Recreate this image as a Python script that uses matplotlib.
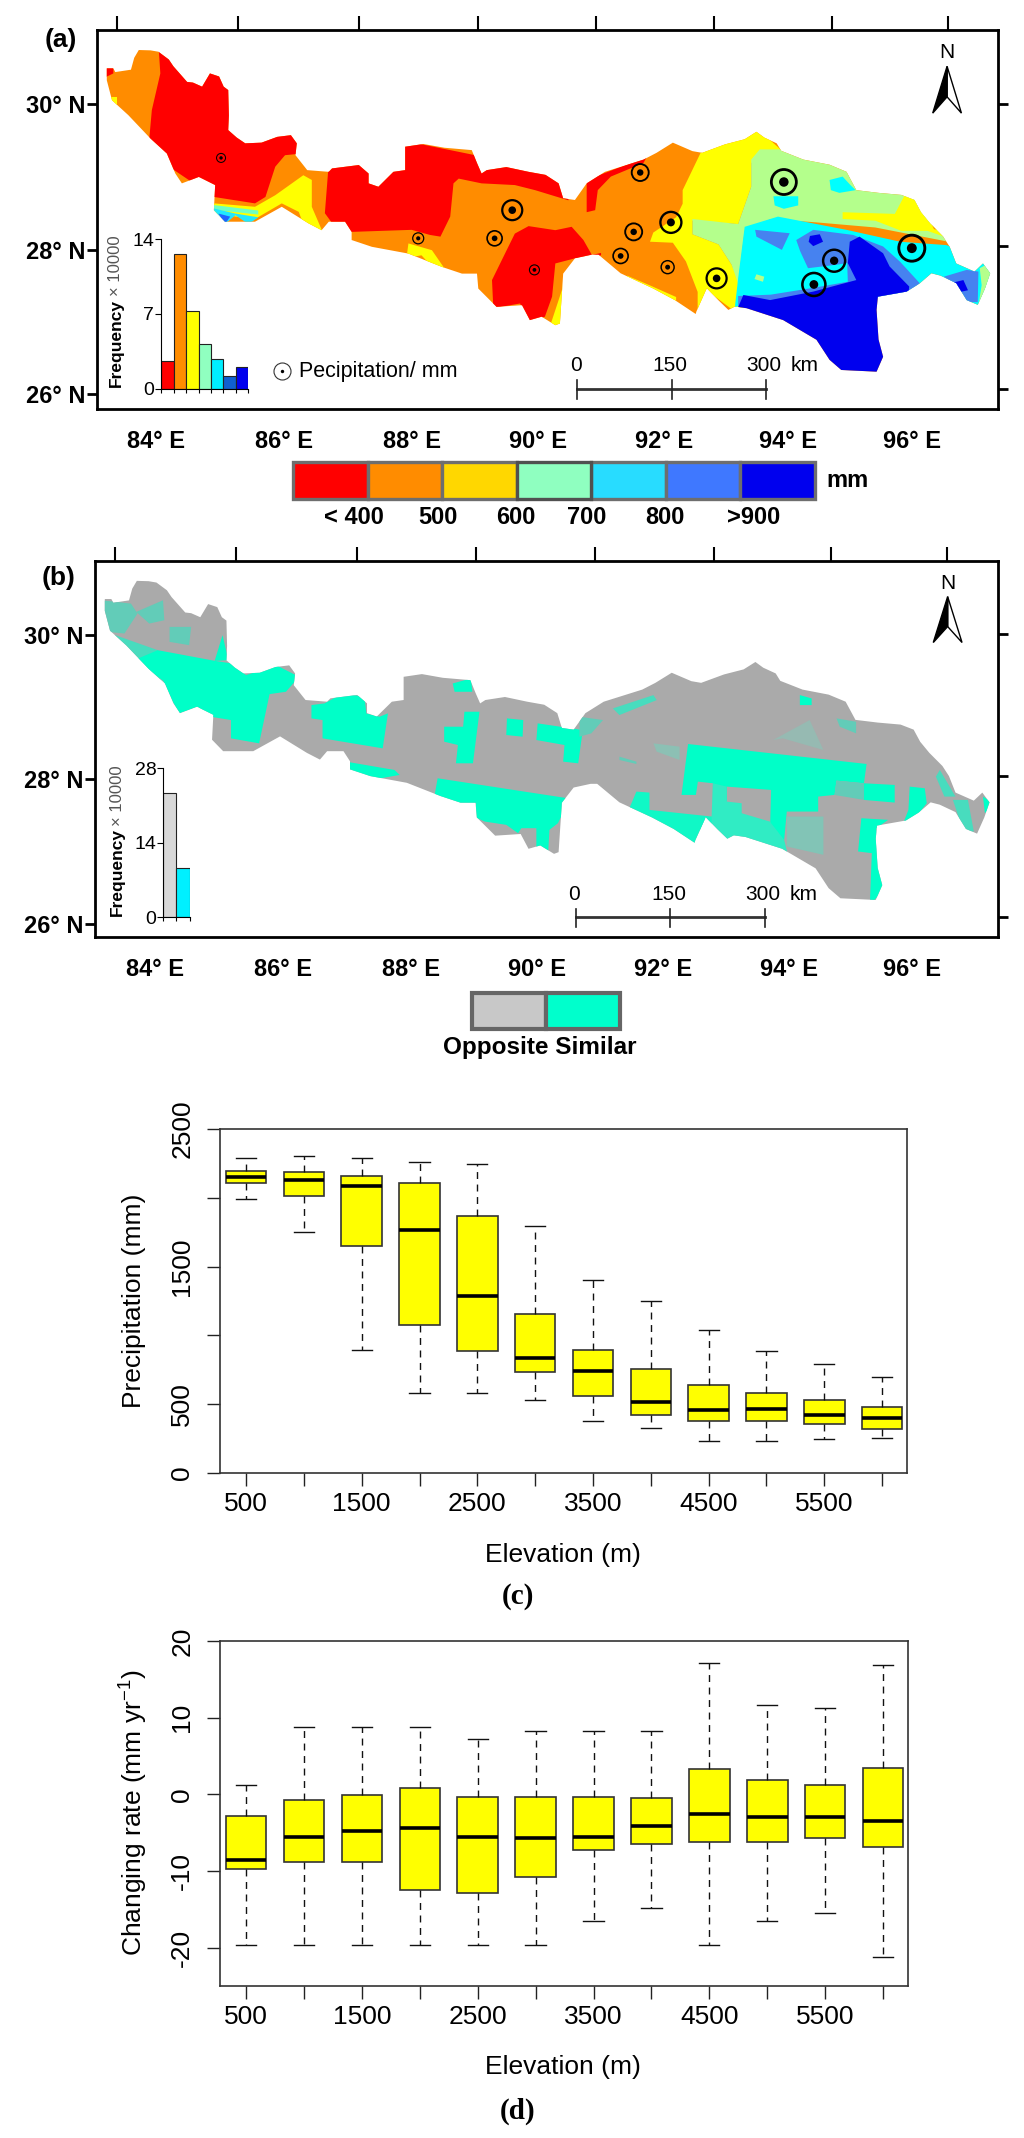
"""plot.py - precipitation maps (a, b) and elevation boxplots (c, d)."""

import matplotlib
matplotlib.use('Agg')
import matplotlib.pyplot as plt
from matplotlib.patches import Polygon

plt.rcParams['font.family'] = ['Liberation Sans', 'DejaVu Sans']
plt.rcParams['mathtext.default'] = 'regular'

W, H = 1024, 2138

# Map data is kept in a digitising grid; each axes gets the grid's limits
# and the graticule ticks are placed in the same units.
outline_x = [163, 173, 176, 200, 205, 212, 230, 242, 258, 265, 286, 295, 309, 321, 335, 342, 349, 350, 349, 362,
             375, 400, 424, 445, 454, 452, 470, 503, 508, 549, 564, 564, 579, 602, 620, 620, 648, 680, 722, 730,
             737, 745, 775, 809, 835, 855, 862, 880, 898, 926, 985, 1005, 1030, 1060, 1075, 1110, 1140, 1158, 1170, 1189,
             1196, 1230, 1270, 1296, 1311, 1345, 1380, 1400, 1410, 1424, 1444, 1454, 1464, 1492, 1505, 1516, 1508, 1497, 1480, 1464,
             1440, 1426, 1408, 1388, 1344, 1342, 1345, 1352, 1342, 1288, 1270, 1250, 1199, 1143, 1125, 1115, 1100, 1082, 1066, 1065,
             1033, 1000, 950, 916, 906, 880, 862, 857, 850, 829, 811, 799, 760, 732, 730, 707, 676, 625, 569, 538,
             538, 528, 503, 492, 472, 431, 390, 344, 327, 329, 304, 278, 268, 255, 230, 196, 171, 163]
outline_y = [201, 201, 212, 205, 170, 147, 148, 152, 175, 195, 241, 243, 255, 216, 225, 255, 265, 340, 383, 405,
             422, 420, 403, 398, 422, 457, 501, 506, 496, 486, 511, 540, 550, 506, 501, 432, 424, 435, 442, 480,
             511, 501, 492, 506, 515, 540, 584, 589, 540, 506, 470, 450, 420, 445, 450, 425, 410, 388, 405, 422,
             444, 470, 485, 506, 560, 568, 574, 589, 625, 658, 697, 727, 776, 800, 776, 805, 850, 898, 884, 834,
             812, 805, 835, 859, 874, 913, 1000, 1051, 1095, 1090, 1060, 1001, 943, 908, 903, 913, 885, 849, 918, 925,
             884, 850, 805, 750, 750, 761, 806, 953, 958, 933, 943, 899, 904, 850, 806, 806, 786, 747, 727, 707,
             683, 653, 653, 678, 658, 609, 653, 653, 619, 545, 521, 540, 511, 452, 408, 339, 295, 236]

# (a) precipitation zones, painted in this order over an orange base
red_tip = [(160, 196), (173, 196), (173, 216), (160, 228)]
red_west = [(242, 130), (245, 216), (232, 324), (228, 410), (250, 480), (327, 580), (390, 599), (406, 580), (421, 491), (436, 457), (462, 452), (470, 380), (300, 120)]
yellow_west = [(327, 599), (390, 609), (421, 575), (464, 516), (477, 530), (477, 609), (494, 685), (465, 665), (457, 624), (431, 599), (390, 645), (327, 630)]
yellow_tip = [(160, 285), (178, 285), (178, 310), (160, 310)]
green_west = [(327, 604), (395, 620), (395, 632), (327, 618)]
cyan_west = [(327, 614), (360, 629), (395, 640), (380, 660), (360, 634), (344, 660), (327, 622)]
blue_west = [(334, 629), (352, 638), (344, 660)]
red_central = [(503, 480), (497, 628), (513, 670), (538, 683), (630, 677), (658, 692), (674, 697), (689, 638), (694, 540), (702, 526), (737, 540), (788, 545), (819, 560), (870, 590), (870, 480), (735, 460), (620, 415), (503, 460)]
yellow_south = [(625, 717), (661, 737), (680, 790), (663, 790), (645, 752), (622, 760)]
red_south = [(788, 688), (809, 666), (850, 678), (875, 668), (893, 707), (906, 751), (920, 745), (920, 752), (880, 761), (850, 776), (845, 874), (834, 933), (809, 948), (796, 894), (755, 908), (753, 825), (778, 727)]
yellow_strip = [(865, 800), (865, 960), (842, 960), (860, 855)]
red_north = [(898, 530), (990, 462), (985, 480), (935, 520), (915, 560), (911, 619), (898, 625)]
yellow_ne = [(960, 812), (1000, 845), (1035, 875), (1035, 895), (1000, 865), (958, 830)]
yellow_east = [(1075, 440), (1045, 560), (1045, 600), (1035, 640), (1000, 685), (995, 712), (1030, 715), (1050, 770), (1068, 860), (1068, 925), (1085, 860), (1130, 925), (1140, 920),
               (1130, 820), (1120, 780), (1100, 720), (1060, 690), (1060, 650), (1130, 660), (1150, 550), (1150, 480), (1195, 440), (1160, 380), (1075, 430)]
green_east = [(1163, 440), (1196, 440), (1320, 500), (1410, 570), (1460, 715), (1340, 670), (1250, 655), (1180, 645), (1140, 680), (1130, 835), (1120, 780), (1100, 720), (1060, 690), (1060, 645), (1130, 660), (1150, 550), (1150, 470)]
yellow_ne2 = [(1290, 625), (1370, 630), (1385, 575), (1420, 590), (1450, 700), (1420, 680), (1380, 680), (1340, 650), (1290, 645)]
orange_speck = [(1425, 655), (1440, 660), (1443, 680), (1430, 675)]
cyan_main = [(1140, 668), (1191, 638), (1296, 677), (1378, 712), (1449, 722), (1520, 770), (1520, 910), (1480, 910), (1400, 870), (1330, 880), (1150, 890), (1125, 905), (1130, 820)]
green_speck = [(1500, 790), (1520, 770), (1520, 900), (1498, 900), (1503, 840)]
yellow_speck = [(1158, 808), (1170, 815), (1168, 830), (1155, 822)]
cyan_spot1 = [(1270, 530), (1290, 520), (1302, 545), (1310, 560), (1285, 568), (1272, 560)]
cyan_spot2 = [(1184, 578), (1222, 578), (1222, 605), (1200, 615), (1186, 605)]
blue_patch = [(1156, 677), (1209, 687), (1197, 736), (1158, 697)]
blue_main = [(1219, 707), (1245, 677), (1306, 692), (1352, 726), (1378, 771), (1408, 834), (1388, 870), (1300, 880), (1130, 905), (1130, 872), (1180, 868), (1245, 848), (1298, 830), (1297, 775), (1280, 780), (1237, 790), (1225, 740)]
blue_east = [(1445, 815), (1480, 795), (1498, 800), (1497, 890), (1480, 890), (1464, 840)]
navy_main = [(1301, 712), (1316, 697), (1352, 746), (1362, 785), (1392, 844), (1390, 880), (1344, 900), (1360, 1110), (1280, 1110), (1199, 960), (1130, 905), (1138, 869), (1179, 884), (1245, 859), (1311, 825), (1298, 775)]
navy_spot1 = [(1240, 695), (1255, 690), (1260, 712), (1245, 725), (1238, 712)]
navy_spot2 = [(1460, 832), (1475, 825), (1482, 855), (1470, 860)]

station_x = [338, 980, 1200, 784, 1027, 970, 757, 640, 1396, 1277, 950, 1022, 818, 1097, 1246]
station_y = [465, 508, 536, 619, 655, 683, 702, 702, 731, 768, 754, 787, 795, 820, 838]
station_precip = [360, 680, 1000, 800, 840, 680, 600, 440, 1040, 880, 600, 520, 400, 800, 920]

# (b) similar-trend patches, grid units of panel (b); the mottled parts are mid tones
m_west1 = [(156, 210), (201, 220), (211, 250), (191, 310), (166, 305)]
m_west2 = [(209, 245), (250, 210), (252, 270), (229, 280)]
m_west3 = [(260, 290), (293, 290), (290, 345), (260, 335)]
m_west4 = [(170, 310), (242, 360), (257, 460), (229, 430), (201, 380)]
g_west_strip = [(329, 392), (341, 315), (350, 390)]
g_west = [(242, 360), (329, 392), (355, 400), (377, 435), (423, 405), (458, 440), (438, 485), (413, 492), (397, 640), (354, 625), (354, 570), (323, 560), (303, 530), (275, 550), (265, 515), (250, 450), (206, 390)]
g_mid = [(477, 525), (497, 520), (525, 490), (558, 500), (561, 550), (581, 560), (594, 550), (586, 655), (494, 625), (494, 570), (477, 565)]
g_north = [(693, 460), (721, 445), (723, 485), (696, 485)]
g_stairs = [(711, 545), (734, 545), (724, 700), (698, 700), (701, 645), (680, 635), (680, 590), (709, 590)]
g_square = [(776, 565), (801, 570), (800, 620), (775, 615)]
g_notch = [(823, 580), (892, 600), (885, 700), (862, 695), (864, 645), (821, 630)]
g_sw = [(530, 695), (604, 720), (612, 735), (568, 750), (530, 730)]
g_south = [(670, 745), (869, 805), (864, 840), (854, 880), (841, 900), (839, 970), (821, 960), (821, 895), (798, 895), (793, 910), (775, 885), (742, 875), (725, 860), (729, 820), (701, 825), (665, 800)]
g_east = [(1053, 642), (1326, 702), (1322, 760), (1280, 752), (1277, 795), (1252, 800), (1252, 845), (1204, 845), (1200, 930), (1178, 925), (1180, 780), (1112, 770), (1112, 815), (1091, 815), (1091, 760), (1068, 755), (1065, 795), (1043, 795)]
m_hole = [(1280, 752), (1322, 760), (1322, 810), (1277, 795)]
g_block = [(1322, 760), (1369, 765), (1369, 818), (1322, 810)]
g_lower = [(1091, 760), (1112, 770), (1112, 815), (1135, 820), (1135, 850), (1178, 875), (1200, 930), (1205, 970), (1140, 960), (1090, 940), (1060, 880), (1089, 860)]
g_band = [(974, 785), (994, 788), (994, 840), (1089, 860), (1089, 965), (1040, 965), (960, 850)]
m_lower = [(1204, 860), (1260, 860), (1260, 975), (1204, 950)]
g_strip = [(1318, 865), (1359, 870), (1341, 895), (1346, 1010), (1355, 1075), (1331, 1125), (1334, 970), (1313, 965)]
g_right = [(1392, 770), (1415, 775), (1418, 820), (1400, 865), (1382, 880), (1390, 840)]
m_far_east = [(1458, 810), (1481, 810), (1490, 905), (1474, 905)]
g_tip = [(1504, 800), (1520, 820), (1507, 850)]
g_spot = [(1224, 495), (1242, 505), (1242, 525), (1224, 525)]
g_north_strip = [(938, 535), (1000, 495), (1005, 510), (948, 555)]
m_north_edge = [(887, 560), (923, 570), (905, 610), (887, 620)]
m_speck1 = [(948, 680), (974, 695), (974, 702), (948, 690)]
m_speck2 = [(1000, 640), (1040, 650), (1040, 690), (1005, 665)]
m_upper = [(1183, 630), (1239, 570), (1260, 660), (1198, 625)]
m_upper2 = [(1280, 565), (1310, 575), (1310, 610), (1285, 590)]
g_edge = [(1438, 720), (1462, 800), (1445, 800), (1432, 740)]

# inset histograms
hist_a_values = [2.55, 12.63, 7.25, 4.2, 2.77, 1.18, 2.0]
hist_a_colors = ['#ff0000', '#ff8c00', '#ffff00', '#90ffc0', '#00eeff', '#1060d0', '#0000ee']
hist_b_values = [23.3, 9.2]
hist_b_colors = ['#d8d8d8', '#00f0ff']

# legends
legend_a_colors = ['#ff0000', '#ff8c00', '#ffd700', '#8fffc0', '#28dcff', '#3f78ff', '#0000ee']
legend_a_labels = ['< 400', '500', '600', '700', '800', '>900']
legend_b_colors = ['#c8c8c8', '#00ffcc']

# graticule
lon_labels = ['84° E', '86° E', '88° E', '90° E', '92° E', '94° E', '96° E']
lat_labels = ['30° N', '28° N', '26° N']
a_lon_ticks = [238, 435, 630, 823, 1016, 1207, 1397]
a_top_ticks = [178, 364, 549, 731, 913, 1093, 1274, 1452]
a_lat_ticks = [305, 735, 1160]
a_right_ticks = [305, 725, 1145]
b_lon_ticks = [237, 434, 629, 822, 1015, 1207, 1396]
b_top_ticks = [176, 362, 546, 729, 911, 1092, 1271, 1449]
b_lat_ticks = [315, 748, 1182]
b_right_ticks = [312, 738, 1163]

# boxplots
elev_labels = ['500', '', '1500', '', '2500', '', '3500', '', '4500', '', '5500', '']
c_low = [1992, 1754, 894, 578, 578, 532, 379, 330, 236, 236, 245, 255]
c_q1 = [2106, 2012, 1650, 1076, 887, 731, 559, 425, 377, 377, 357, 318]
c_med = [2148, 2128, 2089, 1766, 1288, 838, 741, 513, 457, 466, 418, 401]
c_q3 = [2196, 2187, 2157, 2111, 1871, 1154, 896, 753, 637, 581, 532, 479]
c_high = [2291, 2301, 2291, 2262, 2245, 1793, 1402, 1249, 1037, 887, 792, 695]

d_low = [-19.7, -19.7, -19.7, -19.7, -19.7, -19.7, -16.5, -14.8, -19.7, -16.5, -15.5, -21.2]
d_q1 = [-9.8, -8.8, -8.8, -12.5, -12.9, -10.8, -7.25, -6.5, -6.2, -6.2, -5.7, -6.9]
d_med = [-8.6, -5.5, -4.8, -4.4, -5.5, -5.7, -5.5, -4.1, -2.6, -2.9, -2.9, -3.45]
d_q3 = [-2.8, -0.7, -0.1, 0.85, -0.3, -0.3, -0.3, -0.5, 3.3, 1.9, 1.2, 3.45]
d_high = [1.2, 8.8, 8.8, 8.8, 7.25, 8.2, 8.2, 8.2, 17.1, 11.7, 11.3, 16.9]


def px_axes(fig, left, top, right, bottom):
    return fig.add_axes([left / W, 1 - bottom / H, (right - left) / W, (bottom - top) / H])


def px_text(fig, x, y, s, **kw):
    kw.setdefault('ha', 'center')
    kw.setdefault('va', 'center')
    fig.text(x / W, 1 - y / H, s, **kw)


def draw_map(ax, limits, base, zones, outline, lon_ticks, top_ticks, lat_ticks, right_ticks):
    x0, x1, y1, y0 = limits
    ax.set_xlim(x0, x1)
    ax.set_ylim(y1, y0)
    clip = Polygon(outline, closed=True, facecolor=base, edgecolor='none', zorder=1)
    ax.add_patch(clip)
    for pts, color in zones:
        p = Polygon(pts, closed=True, facecolor=color, edgecolor='none', zorder=2)
        ax.add_patch(p)
        p.set_clip_path(clip)

    ax.set_xticks(lon_ticks, lon_labels, fontsize=17, fontweight='bold')
    ax.set_yticks(lat_ticks, lat_labels, fontsize=17, fontweight='bold')
    ax.tick_params(axis='x', length=0, pad=15)
    ax.tick_params(axis='y', length=7, width=2, pad=1)
    for s in ax.spines.values():
        s.set_linewidth(2)

    top = ax.secondary_xaxis('top')
    top.set_xticks(top_ticks, [''] * len(top_ticks))
    top.tick_params(length=10, width=1.5)
    right = ax.secondary_yaxis('right')
    right.set_yticks(right_ticks, [''] * len(right_ticks))
    right.tick_params(length=7, width=2)

    # scale bar and north arrow
    sx = [x0 + 735, x0 + 880, x0 + 1024]
    sy = y1 - 60
    ax.plot([sx[0], sx[2]], [sy, sy], color='#333333', lw=2, zorder=5)
    for x, lab in zip(sx, ['0', '150', '300']):
        ax.plot([x, x], [sy - 25, sy + 30], color='#222222', lw=1.2, zorder=5)
        ax.text(x - 2, sy - 68, lab, fontsize=15, ha='center', va='center', zorder=6)
    ax.text(sx[2] + 60, sy - 68, 'km', fontsize=15, ha='center', va='center', zorder=6)
    ax.add_patch(Polygon([(1450, y0 + 107), (1472, y0 + 245), (1450, y0 + 197)], closed=True,
                         facecolor='white', edgecolor='black', lw=1, zorder=6))
    ax.add_patch(Polygon([(1450, y0 + 107), (1428, y0 + 245), (1450, y0 + 197)], closed=True,
                         facecolor='black', edgecolor='black', lw=1, zorder=6))
    ax.text(1450, y0 + 67, 'N', fontsize=15, ha='center', va='center', zorder=6)


def draw_hist(ax, values, colors, ymax, ticks, ylab_x, fig, top, bottom):
    ax.patch.set_visible(False)
    ax.set_zorder(10)
    ax.bar(range(len(values)), values, width=1, color=colors, edgecolor='#222222', lw=0.8)
    ax.set_xlim(-0.5, len(values) - 0.5)
    ax.set_ylim(0, ymax)
    ax.set_yticks(ticks, [str(t) for t in ticks], fontsize=14)
    ax.set_xticks([i - 0.5 for i in range(len(values) + 1)], [''] * (len(values) + 1))
    ax.tick_params(axis='x', length=3, width=0.8)
    ax.tick_params(axis='y', length=4, width=0.8, pad=1)
    ax.spines['top'].set_visible(False)
    ax.spines['right'].set_visible(False)
    px_text(fig, ylab_x, bottom - 45, 'Frequency', fontsize=12.5, fontweight='bold', rotation=90)
    px_text(fig, ylab_x, top + 27, '× 10000', fontsize=12, color='#555555', rotation=90)


def draw_box(ax, low, q1, med, q3, high, ylim, yticks, ylabels):
    stats = [dict(whislo=a, q1=b, med=c, q3=d, whishi=e, fliers=[])
             for a, b, c, d, e in zip(low, q1, med, q3, high)]
    ax.bxp(stats, positions=range(1, 13), widths=0.7, capwidths=0.35, patch_artist=True,
           manage_ticks=False, showfliers=False,
           boxprops=dict(facecolor='#ffff00', edgecolor='#333333', lw=1.2),
           medianprops=dict(color='black', lw=2.6, solid_capstyle='butt'),
           whiskerprops=dict(color='#111111', lw=1, ls=(0, (5, 4))),
           capprops=dict(color='#111111', lw=1))
    ax.set_xlim(0.55, 12.43)
    ax.set_ylim(*ylim)
    ax.set_xticks(range(1, 13), elev_labels, fontsize=19)
    ax.set_yticks(yticks, ylabels, fontsize=19, rotation=90, va='center')
    ax.tick_params(length=9.5, width=1, color='#222222')
    ax.tick_params(axis='x', pad=4)
    ax.tick_params(axis='y', pad=9)
    for s in ax.spines.values():
        s.set_linewidth(1.2)
        s.set_color('#333333')


def main():
    fig = plt.figure(figsize=(W / 100, H / 100), dpi=100, facecolor='white')
    outline = list(zip(outline_x, outline_y))

    # ── (a) precipitation map ─────────────────────────────────────────────
    ax_a = px_axes(fig, 97, 30, 998, 409)
    zones_a = [(red_tip, '#ff0000'), (red_west, '#ff0000'), (yellow_west, '#ffff00'), (yellow_tip, '#ffff00'),
               (green_west, '#70ffc0'), (cyan_west, '#20e8ff'), (blue_west, '#2060ff'), (red_central, '#ff0000'),
               (yellow_south, '#ffff00'), (red_south, '#ff0000'), (yellow_strip, '#ffff00'),
               (red_north, '#ff0000'), (yellow_ne, '#ffff00'), (yellow_east, '#ffff00'),
               (green_east, '#b4ff8c'), (yellow_ne2, '#ffff00'), (orange_speck, '#ff8c00'),
               (cyan_main, '#00ffff'), (green_speck, '#b4ff8c'), (yellow_speck, '#b4ff8c'),
               (cyan_spot1, '#00ffff'), (cyan_spot2, '#00ffff'), (blue_patch, '#4682f0'),
               (blue_main, '#4682f0'), (blue_east, '#4682f0'), (navy_main, '#0000ee'),
               (navy_spot1, '#0000ee'), (navy_spot2, '#0000ee')]
    draw_map(ax_a, (148, 1528, 1205, 88), '#ff8c00', zones_a, outline,
             a_lon_ticks, a_top_ticks, a_lat_ticks, a_right_ticks)

    # stations: graduated rings with a black dot
    ring_d = [p / 40 * 0.72 for p in station_precip]
    ax_a.scatter(station_x, station_y, s=[d ** 2 for d in ring_d], facecolor='none',
                 edgecolor='black', linewidths=[d / 9 for d in ring_d], zorder=7)
    ax_a.scatter(station_x, station_y, s=[(d * 0.38) ** 2 for d in ring_d], color='black',
                 linewidths=0, zorder=8)
    ax_a.scatter([432], [1093], s=150, facecolor='white', edgecolor='#333333', lw=0.8, zorder=7)
    ax_a.scatter([432], [1093], s=6, color='black', linewidths=0, zorder=8)
    ax_a.text(457, 1095, 'Pecipitation/ mm', fontsize=15.5, va='center', zorder=6)

    ax_ha = px_axes(fig, 161.3, 239, 248.2, 388.5)
    draw_hist(ax_ha, hist_a_values, hist_a_colors, 14, [0, 7, 14], 116, fig, 239, 388.5)

    ax_la = px_axes(fig, 293, 462, 815, 499)
    ax_la.bar(range(7), [1] * 7, width=1, color=legend_a_colors, edgecolor='#6e6e6e', lw=2.4, clip_on=False)
    ax_la.patches[3].set_edgecolor('#505050')
    ax_la.patches[3].set_zorder(3)
    ax_la.set_xlim(-0.5, 6.5)
    ax_la.set_ylim(0, 1)
    ax_la.axis('off')
    for x, lab in zip([354, 438, 516, 587, 665, 754], legend_a_labels):
        px_text(fig, x, 518, lab, fontsize=17, fontweight='bold')
    px_text(fig, 847, 481, 'mm', fontsize=17, fontweight='bold')
    px_text(fig, 61, 40, '(a)', fontsize=19, fontweight='bold')

    # ── (b) trend agreement map ───────────────────────────────────────────
    ax_b = px_axes(fig, 95, 561, 998, 937)
    bright, mix = '#00ffc8', '#62ccb8'
    zones_b = [(m_west1, mix), (m_west2, mix), (m_west3, mix), (m_west4, '#48dcbe'), (g_west_strip, bright),
               (g_west, bright), (g_mid, bright), (g_north, bright), (g_stairs, bright), (g_square, bright),
               (g_notch, bright), (g_sw, bright), (g_south, bright), (g_east, bright), (m_hole, mix),
               (g_block, bright), (g_lower, '#30ecc4'), (g_band, '#10f8c6'), (m_lower, '#82c4b6'),
               (g_strip, bright), (g_right, bright), (m_far_east, '#48dcbe'), (g_tip, bright), (g_spot, bright),
               (g_north_strip, '#48dcbe'), (m_north_edge, mix), (m_speck1, mix), (m_speck2, '#8cc0b4'),
               (m_upper, '#96bab2'), (m_upper2, mix), (g_edge, '#48dcbe')]
    outline_b = [(x - 2, 92 + (y - 88) * 1.0116) for x, y in outline]
    draw_map(ax_b, (146, 1527, 1222, 92), '#aaaaaa', zones_b, outline_b,
             b_lon_ticks, b_top_ticks, b_lat_ticks, b_right_ticks)

    ax_hb = px_axes(fig, 163.4, 768.3, 189.5, 917.3)
    draw_hist(ax_hb, hist_b_values, hist_b_colors, 28, [0, 14, 28], 117, fig, 768.3, 917.3)

    ax_lb = px_axes(fig, 472, 993, 620, 1029)
    ax_lb.bar(range(2), [1, 1], width=1, color=legend_b_colors, edgecolor='#666666', lw=3, clip_on=False)
    ax_lb.set_xlim(-0.5, 1.5)
    ax_lb.set_ylim(0, 1)
    ax_lb.axis('off')
    px_text(fig, 540, 1047, 'Opposite Similar', fontsize=17.5, fontweight='bold')
    px_text(fig, 59, 578, '(b)', fontsize=19, fontweight='bold')

    # ── (c) precipitation vs elevation ────────────────────────────────────
    ax_c = px_axes(fig, 220, 1129, 907, 1473)
    draw_box(ax_c, c_low, c_q1, c_med, c_q3, c_high, (0, 2500),
             [0, 500, 1000, 1500, 2000, 2500], ['0', '500', '', '1500', '', '2500'])
    px_text(fig, 134, 1301, 'Precipitation (mm)', fontsize=19, rotation=90)
    px_text(fig, 563, 1555, 'Elevation (m)', fontsize=19)
    px_text(fig, 518, 1597, '(c)', fontsize=21, family='Liberation Serif', fontweight='bold')

    # ── (d) changing rate vs elevation ────────────────────────────────────
    ax_d = px_axes(fig, 220, 1641, 908, 1986)
    draw_box(ax_d, d_low, d_q1, d_med, d_q3, d_high, (-25, 20),
             [-20, -10, 0, 10, 20], ['-20', '-10', '0', '10', '20'])
    px_text(fig, 134, 1813, r'Changing rate (mm yr$^{-1}$)', fontsize=19, rotation=90)
    px_text(fig, 563, 2067, 'Elevation (m)', fontsize=19)
    px_text(fig, 518, 2111, '(d)', fontsize=21, family='Liberation Serif', fontweight='bold')

    fig.savefig('out.png', dpi=100)


if __name__ == "__main__":
    main()
